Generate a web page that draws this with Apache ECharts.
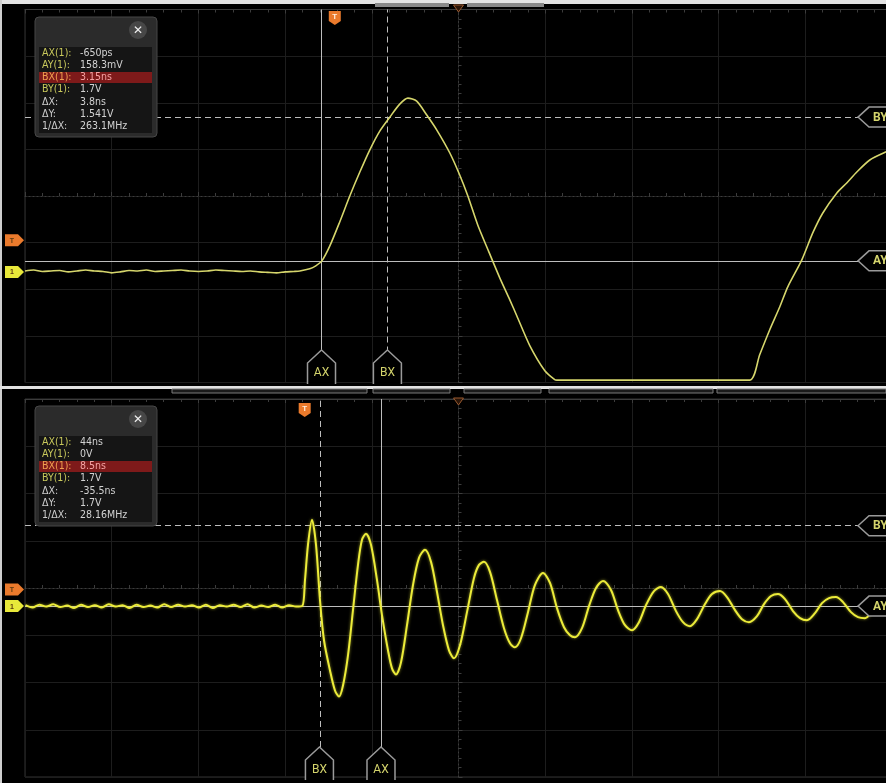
<!DOCTYPE html>
<html><head><meta charset="utf-8">
<script src="https://cdn.jsdelivr.net/npm/echarts@6/dist/echarts.min.js"></script>
<style>html,body{margin:0;padding:0;background:#000;}#c{width:886px;height:783px;}</style>
</head><body><div id="c"></div>
<script>
// ---------- data ----------
// Top panel: time in ns, voltage in V (5 ns/div, 0.5 V/div)
const topTime = [-17.75,-17.25,-16.75,-16.25,-15.75,-15.25,-14.75,-14.25,-13.75,-13.25,-12.75,-12.25,-11.75,-11.25,-10.75,-10.25,-9.75,-9.25,-8.75,-8.25,-7.75,-7.25,-6.75,-6.25,-5.75,-5.25,-4.75,-4.25,-3.75,-3.25,-2.75,-2.25,
  -1.9,-1.33,-0.98,-0.63,-0.17,0.40,0.98,1.56,2.13,2.71,3.29,3.86,4.33,4.84,5.42,6.00,6.75,7.32,7.79,8.36,9.00,9.63,10.21,10.61,11.36,12.23,12.80,12.92,
  15.0,18.0,21.0,24.05,24.62,25.20,25.78,26.24,27.05,27.68,28.26,29.07,29.64,30.22,30.97,31.89,32.24];
const topVolt = [0.05,0.06,0.045,0.05,0.055,0.04,0.05,0.06,0.05,0.045,0.03,0.04,0.055,0.05,0.06,0.045,0.05,0.055,0.06,0.05,0.045,0.05,0.06,0.055,0.05,0.045,0.05,0.04,0.035,0.03,0.04,0.045,
  0.05,0.073,0.105,0.158,0.319,0.576,0.854,1.111,1.347,1.550,1.700,1.839,1.904,1.871,1.722,1.561,1.315,1.079,0.854,0.543,0.255,-0.024,-0.260,-0.430,-0.750,-1.020,-1.116,-1.12,
  -1.12,-1.12,-1.12,-1.12,-0.848,-0.580,-0.334,-0.120,0.169,0.458,0.672,0.887,0.994,1.111,1.240,1.325,1.347];

// Bottom panel: time in ns, voltage in V (50 ns/div, 1 V/div)
const botTime = [-161,-157,-153,-149,-145,-141,-137,-133,-129,-125,-121,-117,-113,-109,-105,-101,-97,-93,-89,-85,-81,-77,-73,-69,-65,-61,-57,-53,-49,-45,-41,-37,-33,-29,-25,-21,-17,-13,-9,-5,
  -1.38,0.17,1.90,4.21,6.52,8.82,11.13,14.59,17.47,19.78,22.09,24.97,27.85,30.74,33.04,35.35,38.23,41.69,44.58,48.04,50.35,52.65,55.54,59.00,62.46,65.92,69.38,72.84,76.30,79.76,83.22,86.10,
  89.56,93.60,97.64,100.52,103.40,106.86,110.90,114.94,118.40,121.28,124.74,128.78,132.81,137.43,141.46,145.50,149.54,153.00,155.88,159.92,163.96,168.00,172.03,176.64,180.68,184.72,188.75,
  192.79,196.83,201.44,205.48,209.52,214.13,218.17,222.20,226.24,230.86,234.89,239.51,243.54,248.16,252.19,256.23,260.84,264.88,268.92,272.95,276.99,281.60,285.64,289.68,294.29,298.33,
  302.37,306.40,310.44,315.05,319.09,323.12,327.16,331.20,335.24,338.70];
const botVolt = [0.02,-0.03,0.03,-0.01,0.04,-0.02,0.01,-0.04,0.03,-0.02,0.02,-0.03,0.04,-0.01,0.02,-0.04,0.03,-0.02,0.01,-0.03,0.04,-0.02,0.03,-0.01,0.02,-0.03,0.03,-0.04,0.02,-0.01,0.03,-0.02,0.04,-0.03,0.01,-0.02,0.03,-0.03,0.02,-0.01,
  0.0,0.553,1.298,1.830,1.298,0.128,-0.723,-1.362,-1.787,-1.915,-1.681,-1.043,-0.085,0.872,1.404,1.532,1.298,0.553,-0.191,-0.936,-1.319,-1.447,-1.191,-0.404,0.447,1.021,1.191,0.936,0.298,-0.404,-0.936,-1.106,
  -0.830,-0.128,0.596,0.872,0.936,0.723,0.128,-0.468,-0.787,-0.872,-0.681,-0.128,0.447,0.702,0.489,-0.043,-0.447,-0.617,-0.660,-0.468,0.000,0.383,0.532,0.340,-0.085,-0.404,-0.511,
  -0.340,0.021,0.319,0.404,0.255,-0.106,-0.340,-0.426,-0.277,0.043,0.255,0.319,0.191,-0.085,-0.277,-0.340,-0.213,0.043,0.213,0.255,0.149,-0.106,-0.255,-0.298,-0.149,0.064,
  0.170,0.191,0.085,-0.128,-0.234,-0.255,-0.128,0.043,0.128,0.170];

// Cursors [A, B]
const topCursorX = [-0.65, 3.15];
const topCursorY = [0.1583, 1.7];
const botCursorX = [44, 8.5];
const botCursorY = [0, 1.7];

// Readout tables
const readoutLabels = ['AX(1):','AY(1):','BX(1):','BY(1):','\u0394X:','\u0394Y:','1/\u0394X:'];
const topReadoutValues = ['-650ps','158.3mV','3.15ns','1.7V','3.8ns','1.541V','263.1MHz'];
const botReadoutValues = ['44ns','0V','8.5ns','1.7V','-35.5ns','1.7V','28.16MHz'];

// Screen scaling (centre of screen and per-division units)
const topScale = {tCenter: 7.25, tDiv: 5, vCenter: 0.854, vDiv: 0.5};
const botScale = {tCenter: 88.7, tDiv: 50, vCenter: 0.383, vDiv: 1};

// ---------- chart ----------
function toDivX(t, s){ return (t - s.tCenter) / s.tDiv; }
function toDivY(v, s){ return (v - s.vCenter) / s.vDiv; }
function pts(ts, vs, s){ return ts.map((t,i)=>[toDivX(t,s), toDivY(vs[i],s)]); }

const gridLine = '#1d1d1d';
const centreLine = '#3c3c3c';
function xAx(gi, pos){
  return {type:'value', gridIndex:gi, min:-5, max:5, interval:1, position:pos||'bottom',
    axisLine:{show:true, onZero: !pos, lineStyle:{color:centreLine, width:1, type:pos?'solid':[1,3]}},
    axisTick:{show:true, inside:true, length:4, lineStyle:{color:centreLine}},
    minorTick:{show:true, splitNumber:5, length:3, lineStyle:{color:centreLine}},
    axisLabel:{show:false},
    splitLine:{show:!pos, lineStyle:{color:gridLine, width:1}}};
}
function yAx(gi, pos){
  return {type:'value', gridIndex:gi, min:-4, max:4, interval:1, position:pos||'left',
    axisLine:{show:true, onZero: !pos, lineStyle:{color:centreLine, width:1, type:pos?'solid':[1,3]}},
    axisTick:{show:true, inside:true, length:4, lineStyle:{color:centreLine}},
    minorTick:{show:true, splitNumber:5, length:3, lineStyle:{color:centreLine}},
    axisLabel:{show:false},
    splitLine:{show:!pos, lineStyle:{color:gridLine, width:1}}};
}
function cursorMarks(cx, cy, s){
  const c = '#bdbdbd';
  return {symbol:'none', silent:true, animation:false, label:{show:false},
    lineStyle:{color:c, width:1},
    data:[
      {xAxis: toDivX(cx[0], s), lineStyle:{type:'solid', color:c, width:1}},
      {xAxis: toDivX(cx[1], s), lineStyle:{type:[6,4], color:c, width:1}},
      {yAxis: toDivY(cy[0], s), lineStyle:{type:'solid', color:c, width:1}},
      {yAxis: toDivY(cy[1], s), lineStyle:{type:[6,4], color:c, width:1}}
    ]};
}

const chart = echarts.init(document.getElementById('c'), null, {renderer:'canvas'});
const option = {
  backgroundColor:'#000',
  animation:false,
  grid:[
    {left:25, top:9.5, width:867, height:373, show:true, borderColor:'#333', borderWidth:1, backgroundColor:'#000', outerBoundsMode:'none'},
    {left:25, top:399, width:867, height:378, show:true, borderColor:'#333', borderWidth:1, backgroundColor:'#000', outerBoundsMode:'none'}
  ],
  xAxis:[xAx(0), xAx(1), xAx(0,'top'), xAx(1,'top')],
  yAxis:[yAx(0), yAx(1)],
  series:[
    {type:'line', xAxisIndex:0, yAxisIndex:0, data:pts(topTime, topVolt, topScale), showSymbol:false, smooth:0.25,
      lineStyle:{color:'#d6d66c', width:1.6}, z:5, markLine:cursorMarks(topCursorX, topCursorY, topScale)},
    {type:'line', xAxisIndex:1, yAxisIndex:1, data:pts(botTime, botVolt, botScale), showSymbol:false, smooth:0.3,
      lineStyle:{color:'#ecec3a', width:2, shadowColor:'rgba(236,236,58,0.6)', shadowBlur:3}, z:5, markLine:cursorMarks(botCursorX, botCursorY, botScale)}
  ]
};
chart.setOption(option);

// ---------- overlays ----------
function px(gi, x, y){ return chart.convertToPixel({gridIndex:gi}, [x, y]); }
const G = [];
const tagStroke = '#9a9a9a', tagText = '#d4d46c';
const tagFont = '12px Roboto, "Noto Sans", sans-serif';
function tagRight(y, txt){
  G.push({type:'polygon', z:50, shape:{points:[[858,y],[869,y-10],[900,y-10],[900,y+10],[869,y+10]]}, style:{fill:'#000', stroke:tagStroke, lineWidth:1.5}});
  G.push({type:'text', z:51, style:{x:873, y:y+0.5, text:txt, fill:tagText, font:'bold '+tagFont, align:'left', verticalAlign:'middle'}});
}
function tagBottom(x, apex, bottom, txt){
  G.push({type:'polygon', z:50, shape:{points:[[x-14,bottom],[x-14,apex+13],[x,apex],[x+14,apex+13],[x+14,bottom]]}, style:{fill:'#000'}});
  G.push({type:'polyline', z:51, shape:{points:[[x-14,bottom],[x-14,apex+13],[x,apex],[x+14,apex+13],[x+14,bottom]]}, style:{fill:null, stroke:tagStroke, lineWidth:1.5}});
  G.push({type:'text', z:52, style:{x:x, y:apex+23, text:txt, fill:tagText, font:tagFont, align:'center', verticalAlign:'middle'}});
}
function readout(ox, oy, values){
  G.push({type:'rect', z:60, shape:{x:ox, y:oy, width:122, height:120, r:4}, style:{fill:'#2b2b2b', stroke:'#474747', lineWidth:1}});
  G.push({type:'circle', z:61, shape:{cx:ox+103, cy:oy+13, r:9}, style:{fill:'#474747'}});
  G.push({type:'text', z:62, style:{x:ox+103, y:oy+13.5, text:'\u2715', fill:'#f0f0f0', font:'bold 12px "DejaVu Sans", sans-serif', align:'center', verticalAlign:'middle'}});
  G.push({type:'rect', z:61, shape:{x:ox+4, y:oy+30, width:113, height:86}, style:{fill:'#151515'}});
  const labelColors = ['#c9c95c','#c9c95c','#f0a050','#c9c95c','#cfcfcf','#cfcfcf','#cfcfcf'];
  for(let i=0;i<readoutLabels.length;i++){
    const ry = oy + 36 + i*12.2;
    if(i===2) G.push({type:'rect', z:62, shape:{x:ox+4, y:ry-5.5, width:113, height:11}, style:{fill:'#7e1a1a'}});
    const f = '10.5px "Liberation Sans Narrow", "DejaVu Sans Condensed", Roboto, sans-serif';
    G.push({type:'text', z:63, style:{x:ox+7, y:ry, text:readoutLabels[i], fill:labelColors[i], font:f, align:'left', verticalAlign:'middle'}});
    G.push({type:'text', z:63, style:{x:ox+45, y:ry, text:values[i], fill:i===2?'#f5a3a3':'#d2d2d2', font:f, align:'left', verticalAlign:'middle'}});
  }
}
function chanMarker(y, color, txt){
  G.push({type:'polygon', z:40, shape:{points:[[5,y-6],[18,y-6],[24,y],[18,y+6],[5,y+6]]}, style:{fill:color}});
  G.push({type:'text', z:41, style:{x:12, y:y+0.5, text:txt, fill:'#5a3a10', font:'bold 7px sans-serif', align:'center', verticalAlign:'middle'}});
}
function trigMarker(x, y){
  G.push({type:'polygon', z:40, shape:{points:[[x-6,y-7],[x+6,y-7],[x+6,y+3],[x,y+7],[x-6,y+3]]}, style:{fill:'#ea7a2c'}});
  G.push({type:'text', z:41, style:{x:x, y:y-1, text:'T', fill:'#fff0e0', font:'bold 8px sans-serif', align:'center', verticalAlign:'middle'}});
}
function centreTri(x, y){
  G.push({type:'polygon', z:40, shape:{points:[[x-5,y-3],[x+5,y-3],[x,y+4]]}, style:{fill:'#2a1508', stroke:'#9a5a30', lineWidth:1}});
}

// frame strips and tabs
G.push({type:'rect', z:30, shape:{x:0, y:0, width:886, height:4}, style:{fill:'#e4e4e4'}});
G.push({type:'rect', z:30, shape:{x:0, y:0, width:2, height:783}, style:{fill:'#cfcfcf'}});
G.push({type:'rect', z:30, shape:{x:375, y:3, width:74, height:4}, style:{fill:'#8a8a8a'}});
G.push({type:'rect', z:30, shape:{x:467, y:3, width:77, height:4}, style:{fill:'#8a8a8a'}});
G.push({type:'rect', z:30, shape:{x:0, y:386, width:886, height:3}, style:{fill:'#e2e2e2'}});
[[172,367],[373,450],[464,541],[549,713],[717,886]].forEach(([a,b])=>{
  G.push({type:'rect', z:30, shape:{x:a, y:389, width:b-a, height:4}, style:{fill:'#1a1a1a', stroke:'#7a7a7a', lineWidth:1}});
});

// top panel overlays
const tAX = px(0, toDivX(topCursorX[0], topScale), 0)[0];
const tBX = px(0, toDivX(topCursorX[1], topScale), 0)[0];
const tAY = px(0, 0, toDivY(topCursorY[0], topScale))[1];
const tBY = px(0, 0, toDivY(topCursorY[1], topScale))[1];
tagRight(tBY, 'BY'); tagRight(tAY, 'AY');
tagBottom(tAX, 350, 384, 'AX'); tagBottom(tBX, 350, 384, 'BX');
const t0top = px(0, toDivX(0, topScale), 0)[0];
trigMarker(t0top + 2, 18);
centreTri(px(0,0,0)[0], 8);
chanMarker(px(0, 0, toDivY(0.38, topScale))[1], '#ea7a2c', 'T');
chanMarker(px(0, 0, toDivY(0.04, topScale))[1], '#e8e83a', '1');
readout(35, 17, topReadoutValues);

// bottom panel overlays
const bAX = px(1, toDivX(botCursorX[0], botScale), 0)[0];
const bBX = px(1, toDivX(botCursorX[1], botScale), 0)[0];
const bAY = px(1, 0, toDivY(botCursorY[0], botScale))[1];
const bBY = px(1, 0, toDivY(botCursorY[1], botScale))[1];
tagRight(bBY, 'BY'); tagRight(bAY, 'AY');
tagBottom(bBX, 747, 780, 'BX'); tagBottom(bAX, 747, 780, 'AX');
const t0bot = px(1, toDivX(0, botScale), 0)[0];
trigMarker(t0bot, 410);
centreTri(px(1,0,0)[0], 401);
chanMarker(px(1, 0, toDivY(0.35, botScale))[1], '#ea7a2c', 'T');
chanMarker(px(1, 0, toDivY(0, botScale))[1], '#e8e83a', '1');
readout(35, 406, botReadoutValues);

chart.setOption({graphic: G});
</script></body></html>
